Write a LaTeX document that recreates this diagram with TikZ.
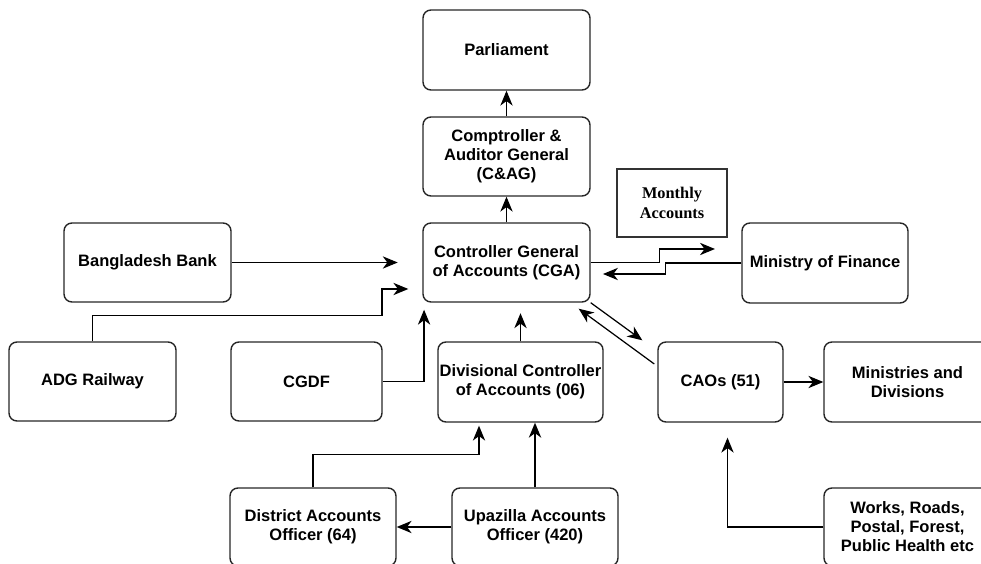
\documentclass[tikz,border=0pt]{standalone}
\usepackage{fontspec}
\setmainfont{Liberation Serif}
\setsansfont{Liberation Sans}
\usepackage{tikz}
\usetikzlibrary{positioning, arrows.meta}
\tikzset{
  orgbox/.style={draw=black!85, line width=0.8pt, rounded corners=4.5pt, align=center,
    inner sep=1pt, font=\sffamily\bfseries\fontsize{9.4}{10.8}\selectfont},
  notebox/.style={draw=black!80, line width=0.75pt, align=center, inner sep=1pt,
    font=\rmfamily\bfseries\fontsize{9.3}{11.3}\selectfont},
  arr/.style={-{Stealth[length=8.5pt, width=7pt, inset=2.6pt]}, line width=0.7pt, black},
  thickarr/.style={arr, line width=1pt},
}

\begin{document}
\begin{tikzpicture}[x=0.02cm, y=-0.02cm]
    \useasboundingbox (0,0) rectangle (981,564);
    \node[orgbox, minimum width=3.34cm, minimum height=1.6cm] (parl) at (506.5,50) {Parliament};
    \node[orgbox, minimum width=3.34cm, minimum height=1.58cm] (cag) at (506.5,156.5) {Comptroller \&\\Auditor General\\(C\&AG)};
    \node[orgbox, minimum width=3.34cm, minimum height=1.58cm] (cga) at (506.5,262.5) {Controller General\\of Accounts (CGA)};
    \node[notebox, minimum width=2.2cm, minimum height=1.36cm] (monthly) at (672,203) {Monthly\\Accounts};
    \node[orgbox, minimum width=3.32cm, minimum height=1.6cm] (mof) at (825,263) {Ministry of Finance};
    \node[orgbox, minimum width=3.34cm, minimum height=1.58cm] (bbank) at (147.5,262.5) {Bangladesh Bank};
    \node[orgbox, minimum width=3.34cm, minimum height=1.58cm] (adg) at (92.5,381.5) {ADG Railway};
    \node[orgbox, minimum width=3.02cm, minimum height=1.58cm] (cgdf) at (306.5,381.5) {CGDF};
    \node[orgbox, minimum width=3.3cm, minimum height=1.6cm] (dca) at (520.5,382) {Divisional Controller\\of Accounts (06)};
    \node[orgbox, minimum width=2.5cm, minimum height=1.6cm] (cao) at (720.5,382) {CAOs (51)};
    \node[orgbox, minimum width=3.34cm, minimum height=1.6cm] (mindiv) at (907.5,382) {Ministries and\\Divisions};
    \node[orgbox, minimum width=3.32cm, minimum height=1.56cm] (dao) at (313,527) {District Accounts\\Officer (64)};
    \node[orgbox, minimum width=3.32cm, minimum height=1.56cm] (uao) at (535,527) {Upazilla Accounts\\Officer (420)};
    \node[orgbox, minimum width=3.34cm, minimum height=1.56cm] (works) at (907.5,527) {Works, Roads,\\Postal, Forest,\\Public Health etc};

    \draw[arr] (cag) -- (parl);
    \draw[arr] (cga) -- (cag);
    \draw[arr, shorten >=14] (bbank.east) -- (bbank.east -| cga.west);
    \draw[arr] (adg.north) -- ++(0,-26) -| (382,289) -- ([shift={(-14,0)}]cga.west |- 0,289);
    \draw[arr, shorten >=4] (cgdf.east) -| ([xshift=1]cga.south west);
    \draw[arr, shorten >=6] (dca.north) -- (dca.north |- cga.south);
    \draw[arr] (cga.south east) -- ([shift={(-15,-1)}]cao.north west);
    \draw[arr] ([shift={(-3,-18)}]cao.west) -- ([shift={(-12,6)}]cga.south east);
    \draw[arr] (cga.east) -- ++(69,0) |- ([xshift=-15]mof.west |- 0,249);
    \draw[arr] (mof.west) -- ++(-76,0) |- ([xshift=7]cga.east |- 0,274);
    \draw[arr] (cao) -- (mindiv);
    \draw[arr] (works.west) -| ([shift={(7,15)}]cao.south);
    \draw[thickarr] (uao.north) -- (uao.north |- dca.south);
    \draw[arr] (uao) -- (dao);
    \draw[arr] (dao.north) -- ++(0,-33) -| ([shift={(-41.5,3)}]dca.south);
\end{tikzpicture}
\end{document}
